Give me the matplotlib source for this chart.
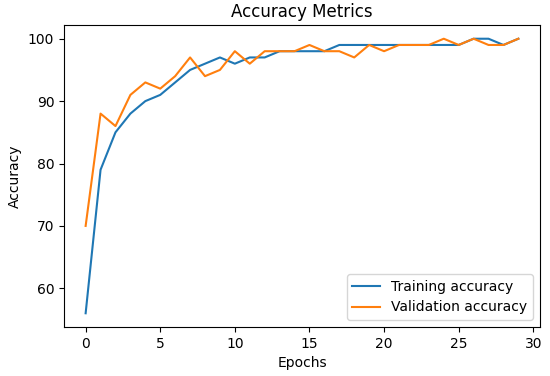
import matplotlib
matplotlib.use("Agg")
import matplotlib.pyplot as plt

# valores
epochs = list(range(30))
train_acc = [56, 79, 85, 88, 90, 91, 93, 95, 96, 97,
             96, 97, 97, 98, 98, 98, 98, 99, 99, 99,
             99, 99, 99, 99, 99, 99, 100, 100, 99, 100]
val_acc = [70, 88, 86, 91, 93, 92, 94, 97, 94, 95,
           98, 96, 98, 98, 98, 99, 98, 98, 97, 99,
           98, 99, 99, 99, 100, 99, 100, 99, 99, 100]

fig = plt.figure(figsize=(5.5, 3.76), dpi=100)
ax = fig.add_axes([64 / 550, 1 - 327 / 376, 476 / 550, 302 / 376])

ax.plot(epochs, train_acc, label="Training accuracy")
ax.plot(epochs, val_acc, label="Validation accuracy")
ax.set_title("Accuracy Metrics")
ax.set_xlabel("Epochs")
ax.set_ylabel("Accuracy")
ax.legend(loc="lower right")

fig.savefig("out.png", dpi=100)
